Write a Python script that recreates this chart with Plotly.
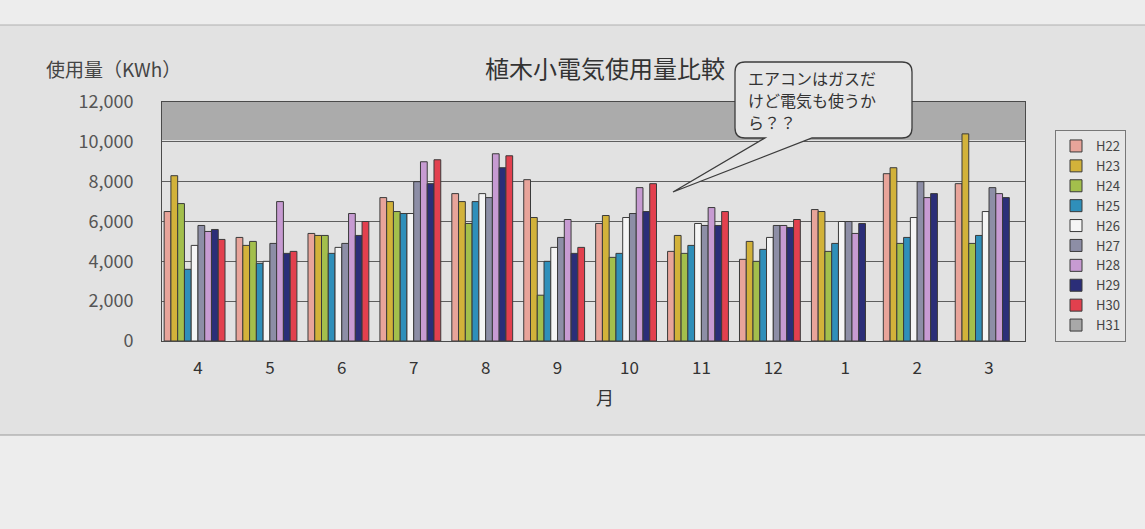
import plotly.graph_objects as go

months = ["4", "5", "6", "7", "8", "9", "10", "11", "12", "1", "2", "3"]
series_names = ["H22", "H23", "H24", "H25", "H26", "H27", "H28", "H29", "H30", "H31"]

H22 = [6500, 5200, 5400, 7200, 7400, 8100, 5900, 4500, 4100, 6600, 8400, 7900]
H23 = [8300, 4800, 5300, 7000, 7000, 6200, 6300, 5300, 5000, 6500, 8700, 10400]
H24 = [6900, 5000, 5300, 6500, 5900, 2300, 4200, 4400, 4000, 4500, 4900, 4900]
H25 = [3600, 3900, 4400, 6400, 7000, 4000, 4400, 4800, 4600, 4900, 5200, 5300]
H26 = [4800, 4000, 4700, 6400, 7400, 4700, 6200, 5900, 5200, 6000, 6200, 6500]
H27 = [5800, 4900, 4900, 8000, 7200, 5200, 6400, 5800, 5800, 6000, 8000, 7700]
H28 = [5500, 7000, 6400, 9000, 9400, 6100, 7700, 6700, 5800, 5400, 7200, 7400]
H29 = [5600, 4400, 5300, 7900, 8700, 4400, 6500, 5800, 5700, 5900, 7400, 7200]
H30 = [5100, 4500, 6000, 9100, 9300, 4700, 7900, 6500, 6100, None, None, None]
H31 = [None] * 12

values = [H22, H23, H24, H25, H26, H27, H28, H29, H30, H31]
colors = ["#e8a49a", "#d2b23a", "#a3bf4c", "#2f8fba", "#f5f5f5",
          "#8d8ea6", "#c79bd2", "#2b2e78", "#e2404e", "#a8a8a8"]

title_text = "植木小電気使用量比較"
ytitle_text = "使用量（KWh）"
xtitle_text = "月"
callout_lines = ["エアコンはガスだ", "けど電気も使うか", "ら？？"]

W, H = 1145, 529
L, R, T, B = 162, 120, 102, 188
PW, PH = W - L - R, H - T - B


def px(x):
    return (x - L) / PW


def py(y):
    return (H - B - y) / PH


FONT = "Noto Sans CJK JP, Noto Sans, sans-serif"

fig = go.Figure()
for name, vals, col in zip(series_names, values, colors):
    fig.add_trace(go.Bar(
        name=name, x=months, y=vals,
        marker=dict(color=col, line=dict(color="#3a3a3a", width=1)),
    ))

# callout bubble (rounded box + wedge)
bx0, by0, bx1, by1, r = 735, 62, 912, 138, 10
wl, wr, tipx, tipy = 765, 812, 673, 192
path = (
    f"M {px(bx0 + r)},{py(by0)} L {px(bx1 - r)},{py(by0)} "
    f"Q {px(bx1)},{py(by0)} {px(bx1)},{py(by0 + r)} "
    f"L {px(bx1)},{py(by1 - r)} Q {px(bx1)},{py(by1)} {px(bx1 - r)},{py(by1)} "
    f"L {px(wr)},{py(by1)} L {px(tipx)},{py(tipy)} L {px(wl)},{py(by1)} "
    f"L {px(bx0 + r)},{py(by1)} Q {px(bx0)},{py(by1)} {px(bx0)},{py(by1 - r)} "
    f"L {px(bx0)},{py(by0 + r)} Q {px(bx0)},{py(by0)} {px(bx0 + r)},{py(by0)} Z"
)

shapes = [
    dict(type="rect", xref="paper", yref="paper", x0=px(0), x1=px(W), y0=py(25), y1=py(435),
         fillcolor="#e2e2e2", line=dict(width=0), layer="below"),
    dict(type="line", xref="paper", yref="paper", x0=px(0), x1=px(W), y0=py(435), y1=py(435),
         line=dict(color="#9a9a9a", width=1), layer="below"),
    dict(type="line", xref="paper", yref="paper", x0=px(0), x1=px(W), y0=py(25), y1=py(25),
         line=dict(color="#b0b0b0", width=1), layer="below"),
    dict(type="rect", xref="paper", yref="paper", x0=0, x1=1, y0=py(140), y1=1,
         fillcolor="#ababab", line=dict(width=0), layer="below"),
    dict(type="path", xref="paper", yref="paper", path=path,
         fillcolor="#e6e6e6", line=dict(color="#3c3c3c", width=1.3), layer="above"),
]

annotations = [
    dict(text=ytitle_text, xref="paper", yref="paper", x=px(44), y=py(68),
         xanchor="left", yanchor="middle", showarrow=False,
         font=dict(family=FONT, size=19, color="#444")),
    dict(text=xtitle_text, xref="paper", yref="paper", x=px(605), y=py(397),
         xanchor="center", yanchor="middle", showarrow=False,
         font=dict(family=FONT, size=18, color="#333")),
]
for i, line in enumerate(callout_lines):
    annotations.append(dict(
        text=line, xref="paper", yref="paper", x=px(746), y=py(78 + 22 * i),
        xanchor="left", yanchor="middle", showarrow=False,
        font=dict(family=FONT, size=16, color="#333")))

fig.update_layout(
    width=W, height=H,
    margin=dict(l=L, r=R, t=T, b=B),
    paper_bgcolor="#ededed",
    plot_bgcolor="#bbbbbb",
    barmode="group",
    bargap=0.06,
    bargroupgap=0,
    font=dict(family=FONT, color="#444"),
    title=dict(text=title_text, x=px(605), xref="paper", xanchor="center",
               y=1 - 70 / H, yanchor="middle",
               font=dict(family=FONT, size=24, color="#333")),
    legend=dict(x=px(1055), y=py(130), xanchor="left", yanchor="top",
                bgcolor="#e6e6e6", bordercolor="#777", borderwidth=1,
                font=dict(family=FONT, size=13, color="#444"),
                itemwidth=30, tracegroupgap=0),
    shapes=shapes,
    annotations=annotations,
)

fig.update_yaxes(range=[0, 12000], dtick=2000, tickformat=",d",
                 gridcolor="#5e5e5e", gridwidth=1, zeroline=False,
                 showline=True, linecolor="#4a4a4a", mirror=True,
                 ticks="", ticklabelstandoff=24,
                 tickfont=dict(family=FONT, size=18, color="#555"))
fig.update_xaxes(type="category", showline=True, linecolor="#4a4a4a", mirror=True,
                 ticks="", ticklabelstandoff=12,
                 tickfont=dict(family=FONT, size=17, color="#333"))

fig.write_html("out.html")
